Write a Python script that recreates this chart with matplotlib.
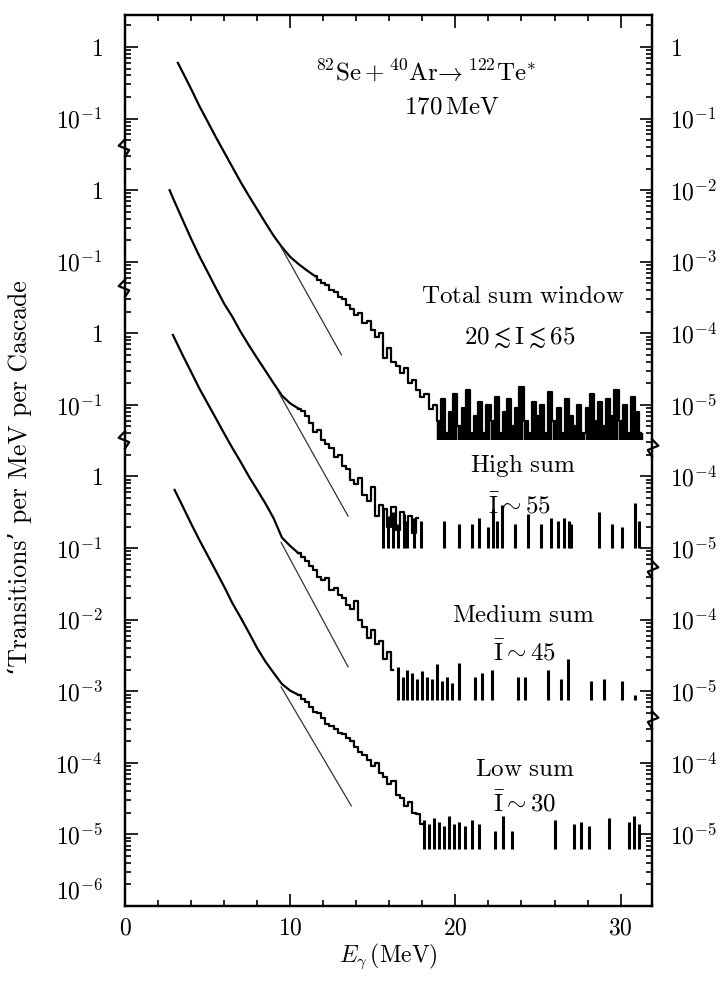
import numpy as np
import matplotlib
matplotlib.use('Agg')
import matplotlib.pyplot as plt
from matplotlib.transforms import blended_transform_factory

plt.rcParams['mathtext.fontset'] = 'cm'
plt.rcParams['font.family'] = ['cmr10', 'DejaVu Serif']
plt.rcParams['axes.unicode_minus'] = False

# ---- data (transitions per MeV per cascade) ----
# total sum window
tot_x = [3.2, 3.5, 4.0, 4.5, 5.0, 5.5, 6.0, 6.5, 7.0, 7.5, 8.0, 8.5, 9.0, 9.5, 10.0, 10.5, 11.0, 11.5]
tot_y = [0.60, 0.44, 0.26, 0.15, 0.091, 0.055, 0.034, 0.021, 0.013, 0.0083, 0.0054, 0.0035,
         0.0023, 0.0016, 0.00117, 9.3e-4, 7.6e-4, 6.3e-4]
tot_nx = [11.75, 12.0, 12.25, 12.5, 12.75, 13.0, 13.25, 13.5, 13.75, 14.0, 14.25, 14.5, 14.75,
          15.0, 15.25, 15.5, 15.75, 16.0, 16.25, 16.5, 16.75, 17.0, 17.25, 17.5, 17.75, 18.0,
          18.25, 18.5, 18.75]
tot_ny = [5.6e-4, 5.0e-4, 4.7e-4, 4.0e-4, 3.8e-4, 3.2e-4, 3.0e-4, 2.5e-4, 2.2e-4, 1.8e-4, 1.9e-4,
          1.4e-4, 1.5e-4, 1.1e-4, 8.9e-5, 1.0e-4, 4.5e-5, 6.3e-5, 4.0e-5, 3.5e-5, 2.8e-5, 3.3e-5,
          2.0e-5, 2.2e-5, 1.6e-5, 1.3e-5, 1.4e-5, 8.9e-6, 1.0e-5]
tot_tx = [19.0, 19.25, 19.5, 19.75, 20.0, 20.25, 20.5, 20.75, 21.0, 21.25, 21.5, 21.75, 22.0,
          22.25, 22.5, 22.75, 23.0, 23.25, 23.5, 23.75, 24.0, 24.25, 24.5, 24.75, 25.0, 25.25,
          25.5, 25.75, 26.0, 26.25, 26.5, 26.75, 27.0, 27.25, 27.5, 27.75, 28.0, 28.25, 28.5,
          28.75, 29.0, 29.25, 29.5, 29.75, 30.0, 30.25, 30.5, 30.75, 31.0, 31.25]
tot_ty = [6e-6, 1.2e-5, 4e-6, 8e-6, 1.4e-5, 5e-6, 9e-6, 1.6e-5, 4e-6, 7e-6, 1.1e-5, 4e-6, 1.0e-5,
          6e-6, 1.3e-5, 4e-6, 8e-6, 1.2e-5, 5e-6, 9e-6, 1.8e-5, 6e-6, 4e-6, 1.1e-5, 7e-6, 1.0e-5,
          4e-6, 1.5e-5, 6e-6, 9e-6, 4e-6, 1.2e-5, 7e-6, 5e-6, 1.0e-5, 4e-6, 9e-6, 1.4e-5, 6e-6,
          1.1e-5, 5e-6, 1.2e-5, 7e-6, 1.6e-5, 6e-6, 1.0e-5, 4e-6, 1.3e-5, 8e-6, 4e-6]
tot_floor = 3.2e-6
tot_fit_x = [9.45, 13.1]
tot_fit_y = [1.6e-3, 5.0e-5]

# high sum
high_x = [2.7, 3.0, 3.5, 4.0, 4.5, 5.0, 5.5, 6.0, 6.5, 7.0, 7.5, 8.0, 8.5, 9.0, 9.5, 10.0, 10.5]
high_y = [1.0, 0.69, 0.38, 0.21, 0.12, 0.072, 0.043, 0.026, 0.017, 0.0105, 0.0068, 0.0045,
          0.0030, 0.0020, 0.00135, 0.00105, 8.9e-4]
high_nx = [10.75, 11.0, 11.25, 11.5, 11.75, 12.0, 12.25, 12.5, 12.75, 13.0, 13.25, 13.5, 13.75,
           14.0, 14.25, 14.5, 14.75, 15.0, 15.25, 15.5, 15.75, 16.0, 16.25, 16.5, 16.75, 17.0,
           17.25, 17.5, 17.75]
high_ny = [8.3e-4, 7.1e-4, 5.6e-4, 4.2e-4, 4.5e-4, 3.2e-4, 2.8e-4, 2.5e-4, 1.9e-4, 2.0e-4,
           1.4e-4, 1.26e-4, 8.9e-5, 7.9e-5, 9.5e-5, 5.6e-5, 4.5e-5, 7.1e-5, 2.8e-5, 4.0e-5,
           3.5e-5, 2.0e-5, 3.8e-5, 1.8e-5, 3.2e-5, 2.2e-5, 2.8e-5, 1.6e-5, 2.6e-5]
high_bx = [15.6, 15.9, 16.2, 16.5, 16.9, 17.1, 17.5, 17.9, 19.3, 20.2, 21.0, 21.4, 22.0, 22.3,
           22.5, 22.8, 23.6, 24.4, 25.2, 25.8, 26.2, 26.6, 26.9, 27.0, 28.7, 29.5, 30.1, 30.9, 31.1]
high_by = [3.5e-5, 2.8e-5, 3.2e-5, 2.2e-5, 3.0e-5, 2.4e-5, 2.6e-5, 2.4e-5, 2.4e-5, 2.2e-5,
           2.2e-5, 2.6e-5, 2.0e-5, 3.5e-5, 2.4e-5, 4.0e-5, 2.2e-5, 3.0e-5, 2.2e-5, 2.6e-5,
           2.4e-5, 2.6e-5, 2.4e-5, 2.2e-5, 3.2e-5, 2.2e-5, 2.0e-5, 4.2e-5, 2.4e-5]
high_floor = 1.0e-5
high_fit_x = [9.3, 13.5]
high_fit_y = [1.5e-3, 2.8e-5]

# medium sum
med_x = [2.9, 3.0, 3.5, 4.0, 4.5, 5.0, 5.5, 6.0, 6.5, 7.0, 7.5, 8.0, 8.5, 9.0, 9.5, 10.0, 10.5]
med_y = [0.95, 0.85, 0.49, 0.29, 0.17, 0.105, 0.065, 0.040, 0.025, 0.016, 0.010, 0.0065,
         0.0042, 0.0026, 0.0014, 0.00107, 8.5e-4]
med_nx = [10.75, 11.0, 11.25, 11.5, 11.75, 12.0, 12.25, 12.5, 12.75, 13.0, 13.25, 13.5, 13.75,
          14.0, 14.25, 14.5, 14.75, 15.0, 15.25, 15.5, 15.75, 16.0, 16.25]
med_ny = [7.6e-4, 6.6e-4, 5.6e-4, 5.0e-4, 4.0e-4, 3.6e-4, 3.8e-4, 2.6e-4, 2.8e-4, 2.2e-4,
          2.0e-4, 1.6e-4, 1.4e-4, 1.8e-4, 1.0e-4, 7.9e-5, 5.6e-5, 7.1e-5, 4.5e-5, 5.0e-5,
          2.8e-5, 3.5e-5, 2.0e-5]
med_bx = [16.5, 16.8, 17.1, 17.4, 17.7, 18.0, 18.3, 18.6, 18.9, 19.2, 19.5, 19.8, 20.2, 21.2,
          21.6, 22.2, 23.8, 24.2, 25.6, 26.4, 26.8, 28.2, 29.0, 30.1, 30.9]
med_by = [2.2e-5, 1.6e-5, 2.0e-5, 1.8e-5, 1.5e-5, 1.9e-5, 1.6e-5, 1.5e-5, 2.4e-5, 1.4e-5,
          1.6e-5, 1.3e-5, 2.5e-5, 1.6e-5, 1.8e-5, 2.0e-5, 1.6e-5, 1.6e-5, 2.0e-5, 1.5e-5,
          2.8e-5, 1.4e-5, 1.5e-5, 1.4e-5, 9e-6]
med_floor = 7.5e-6
med_fit_x = [9.45, 13.5]
med_fit_y = [1.2e-3, 2.2e-5]

# low sum
low_x = [3.0, 3.5, 4.0, 4.5, 5.0, 5.5, 6.0, 6.5, 7.0, 7.5, 8.0, 8.5, 9.0, 9.5, 10.0, 10.5]
low_y = [0.65, 0.38, 0.22, 0.13, 0.079, 0.048, 0.029, 0.017, 0.0107, 0.0066, 0.0040, 0.0026,
         0.0018, 0.00126, 0.00102, 8.9e-4]
low_nx = [10.75, 11.0, 11.25, 11.5, 11.75, 12.0, 12.25, 12.5, 12.75, 13.0, 13.25, 13.5, 13.75,
          14.0, 14.25, 14.5, 14.75, 15.0, 15.25, 15.5, 15.75, 16.0, 16.25, 16.5, 16.75, 17.0,
          17.25, 17.5, 17.75, 18.0]
low_ny = [7.9e-4, 7.1e-4, 6.0e-4, 5.2e-4, 5.0e-4, 4.2e-4, 3.5e-4, 3.3e-4, 3.0e-4, 2.6e-4,
          2.5e-4, 2.2e-4, 2.0e-4, 1.66e-4, 1.4e-4, 1.3e-4, 1.1e-4, 8.9e-5, 1.0e-4, 7.1e-5,
          6.3e-5, 5.0e-5, 5.6e-5, 3.5e-5, 3.2e-5, 2.5e-5, 2.8e-5, 2.0e-5, 1.9e-5, 1.4e-5]
low_bx = [18.1, 18.4, 18.7, 19.0, 19.3, 19.6, 19.9, 20.2, 20.6, 21.0, 21.4, 22.4, 22.9, 23.4,
          26.0, 27.2, 27.6, 28.1, 29.3, 30.5, 30.8, 31.1]
low_by = [1.6e-5, 1.4e-5, 1.7e-5, 1.5e-5, 1.3e-5, 1.8e-5, 1.4e-5, 1.5e-5, 1.3e-5, 1.6e-5,
          1.4e-5, 1.1e-5, 1.8e-5, 1.1e-5, 1.6e-5, 1.4e-5, 1.5e-5, 1.3e-5, 1.7e-5, 1.5e-5,
          1.8e-5, 1.4e-5]
low_floor = 6.3e-6
low_fit_x = [9.45, 13.7]
low_fit_y = [1.15e-3, 2.5e-5]

# vertical shift of each spectrum, in decades
offsets = [0, -2, -4, -6]

# axis labels
left_ticks = [0, -1, -2, -3, -4, -5, -6, -7, -8, -9, -10, -11]
left_labels = ['1', '10^{-1}', '1', '10^{-1}', '1', '10^{-1}', '1', '10^{-1}',
               '10^{-2}', '10^{-3}', '10^{-4}', '10^{-5}']
right_ticks = [0, -1, -2, -3, -4, -5, -6, -7, -8, -9, -10, -11]
right_labels = ['1', '10^{-1}', '10^{-2}', '10^{-3}', '10^{-4}', '10^{-5}',
                '10^{-4}', '10^{-5}', '10^{-4}', '10^{-5}', '10^{-4}', '10^{-5}']
left_breaks = [-1.41, -3.37, -5.49]
right_breaks = [-5.6, -7.3, -9.4]


def dec(v, off):
    return np.log10(np.asarray(v, dtype=float)) + off


fig = plt.figure(figsize=(7.21, 9.82), dpi=100)
ax = fig.add_axes([125 / 721, 1 - 906 / 982, 527 / 721, 891 / 982])
ax.set_xlim(0, 31.9)
ax.set_ylim(-12.0, 0.447)

lw = 1.6
curves = [
    (tot_x, tot_y, tot_nx, tot_ny, tot_fit_x, tot_fit_y),
    (high_x, high_y, high_nx, high_ny, high_fit_x, high_fit_y),
    (med_x, med_y, med_nx, med_ny, med_fit_x, med_fit_y),
    (low_x, low_y, low_nx, low_ny, low_fit_x, low_fit_y),
]
for (sx, sy, nx, ny, fx, fy), off in zip(curves, offsets):
    ax.plot(sx, dec(sy, off), color='black', lw=lw)
    ax.plot(np.r_[sx[-1], nx], dec(np.r_[sy[-1], ny], off), color='black', lw=lw,
            drawstyle='steps-mid')
    ax.plot(fx, dec(fy, off), color='#333333', lw=0.9)

# dense tail of the total spectrum
ax.plot(np.r_[tot_nx[-1], tot_tx], dec(np.r_[tot_ny[-1], tot_ty], 0), color='black', lw=lw,
        drawstyle='steps-mid')
ax.vlines(tot_tx, dec(tot_floor, 0), dec(tot_ty, 0), color='black', lw=3.2)

# sparse tails
for bx, by, fl, off in [(high_bx, high_by, high_floor, -2),
                        (med_bx, med_by, med_floor, -4),
                        (low_bx, low_by, low_floor, -6)]:
    ax.vlines(bx, dec(fl, off), dec(by, off), color='black', lw=2.2)

# ticks
fs = 17
ax.set_xticks([0, 10, 20, 30])
ax.set_xticklabels(['$0$', '$10$', '$20$', '$30$'], fontsize=fs)
ax.set_xticks(np.arange(2, 32, 2), minor=True)
ax.set_yticks(left_ticks)
ax.set_yticklabels(['$%s$' % s for s in left_labels], fontsize=fs)


def minor_pos(segs):
    pos = []
    for lo, hi in segs:
        for d in range(int(np.floor(lo)), int(np.ceil(hi)) + 1):
            for k in range(2, 10):
                p = d - 1 + np.log10(k)
                if lo + 0.05 < p < hi - 0.05:
                    pos.append(p)
    return pos


left_segs = [(left_breaks[0], 0.447), (left_breaks[1], left_breaks[0]),
             (left_breaks[2], left_breaks[1]), (-12.0, left_breaks[2])]
right_segs = [(right_breaks[0], 0.447), (right_breaks[1], right_breaks[0]),
              (right_breaks[2], right_breaks[1]), (-12.0, right_breaks[2])]
ax.set_yticks(minor_pos(left_segs), minor=True)
ax.tick_params(which='both', direction='in', top=True, width=1.2)
ax.tick_params(which='major', length=9, pad=8)
ax.tick_params(axis='y', which='major', pad=16)
ax.tick_params(which='minor', length=4)
ax.tick_params(axis='y', which='major', right=False)
ax.tick_params(axis='y', which='minor', right=False)

ax2 = ax.twinx()
ax2.set_ylim(ax.get_ylim())
ax2.set_yticks(right_ticks)
ax2.set_yticklabels(['$%s$' % s for s in right_labels], fontsize=fs)
ax2.set_yticks(minor_pos(right_segs), minor=True)
ax2.tick_params(which='both', direction='in', width=1.2)
ax2.tick_params(which='major', length=9, pad=13)
ax2.tick_params(which='minor', length=4)

for a in (ax, ax2):
    for sp in a.spines.values():
        sp.set_linewidth(1.6)

ax.text(-1.3, -11.8, '$10^{-6}$', fontsize=fs, ha='right', va='center')

# axis breaks
trl = blended_transform_factory(ax.transAxes, ax.transData)
for b in left_breaks:
    ax.plot([0.0, -0.012, 0.008, 0.0], [b + 0.12, b + 0.03, b - 0.03, b - 0.12],
            color='black', lw=1.6, transform=trl, clip_on=False)
for b in right_breaks:
    ax.plot([1.0, 1.012, 0.992, 1.0], [b + 0.12, b + 0.03, b - 0.03, b - 0.12],
            color='black', lw=1.6, transform=trl, clip_on=False)

# annotations
fa = 18
ax.text(18.2, -0.36, r'$^{82}\mathrm{Se}+{}^{40}\mathrm{Ar}\!\rightarrow{}^{122}\mathrm{Te}^{*}$',
        fontsize=fa, ha='center', va='center')
ax.text(19.8, -0.85, r'$170\,\mathrm{MeV}$', fontsize=fa, ha='center', va='center')
ax.text(24.1, -3.49, r'$\mathrm{Total\ sum\ window}$', fontsize=fa, ha='center', va='center')
ax.text(23.9, -4.06, r'$20\lesssim \mathrm{I}\lesssim 65$', fontsize=fa, ha='center', va='center')
ax.text(24.1, -5.84, r'$\mathrm{High\ sum}$', fontsize=fa, ha='center', va='center')
ax.text(23.9, -6.40, r'$\bar{\mathrm{I}}\sim 55$', fontsize=fa, ha='center', va='center')
ax.text(24.1, -7.95, r'$\mathrm{Medium\ sum}$', fontsize=fa, ha='center', va='center')
ax.text(24.2, -8.45, r'$\bar{\mathrm{I}}\sim 45$', fontsize=fa, ha='center', va='center')
ax.text(24.2, -10.1, r'$\mathrm{Low\ sum}$', fontsize=fa, ha='center', va='center')
ax.text(24.2, -10.56, r'$\bar{\mathrm{I}}\sim 30$', fontsize=fa, ha='center', va='center')

ax.set_xlabel(r'$E_{\gamma}\,(\mathrm{MeV})$', fontsize=fs, labelpad=2)
fig.text(20 / 721, 1 - 478 / 982, '\u2018Transitions\u2019 per MeV per Cascade', fontsize=18.5,
         rotation=90, ha='center', va='center', family=['cmr10', 'DejaVu Serif'])

fig.savefig('out.png', dpi=100)
